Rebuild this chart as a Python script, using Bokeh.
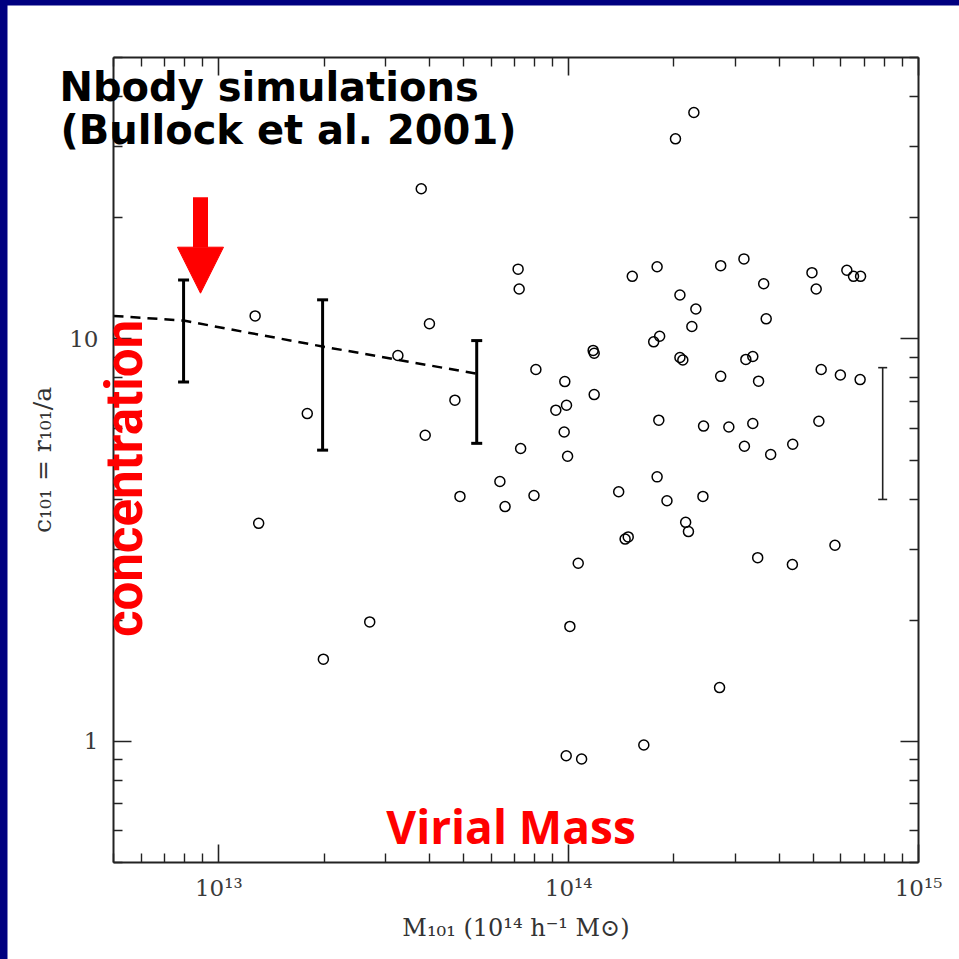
import math
from bokeh.plotting import figure
from bokeh.models import (Range1d, LogAxis, FixedTicker, CustomJSTickFormatter, Whisker, TeeHead,
                          ColumnDataSource, Label, Arrow, NormalHead, GlobalInlineStyleSheet)
from bokeh.embed import file_html
from bokeh.resources import INLINE

# ---------------- data ----------------
halo_mass = [2.02e14, 2.28e14, 3.79e13, 1.27e13, 4.00e13, 7.17e13, 7.22e13, 1.52e14, 1.79e14, 2.72e14,
             3.17e14, 3.61e14, 4.96e14, 5.10e14, 6.24e14, 6.52e14, 6.83e14, 2.08e14, 2.31e14, 2.25e14,
             3.67e14, 1.75e14, 1.82e14, 1.175e14, 1.183e14, 2.08e14, 2.12e14, 3.21e14, 3.36e14, 3.25e13,
             8.06e13, 9.75e13, 2.72e14, 3.49e14, 5.27e14, 5.98e14, 6.81e14, 1.183e14, 9.86e13, 9.19e13,
             9.71e13, 1.79e13, 3.89e13, 4.73e13, 1.81e14, 2.43e14, 2.87e14, 3.36e14, 5.19e14, 3.18e14,
             3.78e14, 4.37e14, 7.29e13, 9.93e13, 6.36e13, 7.96e13, 6.58e13, 4.89e13, 1.79e14, 1.39e14,
             1.91e14, 2.42e14, 2.16e14, 2.20e14, 1.45e14, 1.48e14, 1.30e13, 1.065e14, 3.47e14, 4.36e14,
             5.77e14, 2.70e13, 1.008e14, 1.99e13, 2.70e14, 9.84e13, 1.089e14, 1.64e14]
halo_conc = [31.4, 36.5, 23.6, 11.4, 10.9, 14.9, 13.3, 14.3, 15.1, 15.2,
             15.8, 13.7, 14.6, 13.3, 14.8, 14.3, 14.3, 12.85, 11.86, 10.73,
             11.21, 9.83, 10.15, 9.36, 9.21, 8.99, 8.86, 8.89, 9.04, 9.09,
             8.39, 7.83, 8.07, 7.85, 8.39, 8.13, 7.92, 7.27, 6.84, 6.65,
             5.87, 6.52, 5.76, 7.04, 6.28, 6.07, 6.04, 6.16, 6.24, 5.41,
             5.16, 5.47, 5.34, 5.11, 4.42, 4.08, 3.83, 4.06, 4.54, 4.17,
             3.96, 4.06, 3.50, 3.32, 3.18, 3.22, 3.48, 2.77, 2.86, 2.75,
             3.07, 1.98, 1.93, 1.60, 1.36, 0.921, 0.904, 0.979]

# N-body (Bullock et al. 2001) binned relation
bin_mass = [7.93e12, 1.98e13, 5.46e13]
bin_upper = [14.0, 12.5, 9.9]
bin_lower = [7.81, 5.29, 5.50]
model_mass = [5.0e12, 7.93e12, 1.98e13, 5.46e13]
model_conc = [11.4, 11.1, 9.57, 8.19]

# typical error bar
typ_mass = [7.9e14]
typ_upper = [8.48]
typ_lower = [3.99]

x_limits = (5e12, 1e15)
y_limits = (0.5, 50)
x_ticks = [1e13, 1e14, 1e15]
x_tick_labels = ["10¹³", "10¹⁴", "10¹⁵"]
y_ticks = [1, 10]
y_tick_labels = ["1", "10"]
x_minor = [v for v in (k * 10.0 ** e for e in (12, 13, 14) for k in range(2, 10))
           if x_limits[0] * 0.999 <= v <= x_limits[1]]
y_minor = [v for v in (k * 10.0 ** e for e in (-1, 0, 1) for k in range(2, 10))
           if y_limits[0] * 0.999 <= v <= y_limits[1] * 1.001]

# ---------------- layout ----------------
W, H = 952, 954
OX, OY = 7, 5                      # page offset of the canvas
FL, FR, FT, FB = 113, 918, 57, 862  # page pixel box of the axes

kx = (math.log10(x_limits[1]) - math.log10(x_limits[0])) / (FR - FL)
ky = (math.log10(y_limits[1]) - math.log10(y_limits[0])) / (FB - FT)
x_start = 10 ** (math.log10(x_limits[0]) - (FL - OX) * kx)
x_end = 10 ** (math.log10(x_limits[1]) + (OX + W - FR) * kx)
y_start = 10 ** (math.log10(y_limits[0]) - (OY + H - FB) * ky)
y_end = 10 ** (math.log10(y_limits[1]) + (FT - OY) * ky)


def sx(px):
    return px - OX


def sy(py):
    return (OY + H) - py


p = figure(width=W, height=H, x_axis_type="log", y_axis_type="log",
           x_range=Range1d(x_start, x_end), y_range=Range1d(y_start, y_end),
           output_backend="svg", toolbar_location=None, min_border=0)
p.background_fill_color = "white"
p.border_fill_color = "white"
p.outline_line_color = None
p.xgrid.visible = False
p.ygrid.visible = False
p.stylesheets = [GlobalInlineStyleSheet(
    css="html,body{background:#000080;} body{margin:5px 0 0 7px !important; overflow:hidden;}")]

FMT_CODE = """
let best = -1, bd = 1e9;
for (let i = 0; i < tv.length; i++) {
  const d = Math.abs(Math.log10(tv[i]) - Math.log10(tick));
  if (d < bd) { bd = d; best = i; }
}
return bd < 1e-3 ? lbl[best] : "";
"""


def style_axis(ax, ticks, minor, bounds, loc, labels=None):
    ax.ticker = FixedTicker(ticks=ticks, minor_ticks=minor)
    ax.bounds = bounds
    ax.fixed_location = loc
    if labels is not None:
        ax.formatter = CustomJSTickFormatter(args=dict(tv=ticks, lbl=labels), code=FMT_CODE)
    else:
        ax.formatter = CustomJSTickFormatter(code="return '';")
        ax.major_label_standoff = 0
    ax.major_tick_in = 18
    ax.major_tick_out = 0
    ax.minor_tick_in = 9
    ax.minor_tick_out = 0
    ax.axis_line_width = 2
    ax.axis_line_color = "#222222"
    ax.major_tick_line_width = 1.6
    ax.major_tick_line_color = "#222222"
    ax.minor_tick_line_width = 1.4
    ax.minor_tick_line_color = "#222222"
    ax.major_label_text_font = "DejaVu Serif"
    ax.major_label_text_font_size = "23px"
    ax.major_label_text_color = "#3a3a3a"


bottom = p.below[0]
left = p.left[0]
style_axis(bottom, x_ticks, x_minor, x_limits, y_limits[0], x_tick_labels)
style_axis(left, y_ticks, y_minor, y_limits, x_limits[0], y_tick_labels)
bottom.major_label_standoff = 12
left.major_label_standoff = 15

bottom.axis_label = "M₁₀₁ (10¹⁴ h⁻¹ M⊙)"
bottom.axis_label_text_font = "DejaVu Serif"
bottom.axis_label_text_font_size = "24px"
bottom.axis_label_text_font_style = "normal"
bottom.axis_label_text_color = "#333333"
bottom.axis_label_standoff = 10

left.axis_label = "c₁₀₁ = r₁₀₁/a"
left.axis_label_text_font = "DejaVu Serif"
left.axis_label_text_font_size = "25px"
left.axis_label_text_font_style = "normal"
left.axis_label_text_color = "#333333"
left.axis_label_standoff = 9

top_ax = LogAxis()
style_axis(top_ax, x_ticks, x_minor, x_limits, y_limits[1])
p.add_layout(top_ax, "above")
right_ax = LogAxis()
style_axis(right_ax, y_ticks, y_minor, y_limits, x_limits[1])
p.add_layout(right_ax, "right")

# ---------------- glyphs ----------------
p.line(model_mass, model_conc, line_color="black", line_width=2.5, line_dash="10 7")

bins = ColumnDataSource(dict(x=bin_mass, upper=bin_upper, lower=bin_lower))
p.add_layout(Whisker(source=bins, base="x", upper="upper", lower="lower", dimension="height",
                     line_color="black", line_width=3,
                     upper_head=TeeHead(size=11, line_width=3, line_color="black"),
                     lower_head=TeeHead(size=11, line_width=3, line_color="black")))

typ = ColumnDataSource(dict(x=typ_mass, upper=typ_upper, lower=typ_lower))
p.add_layout(Whisker(source=typ, base="x", upper="upper", lower="lower", dimension="height",
                     line_color="#222222", line_width=1.6,
                     upper_head=TeeHead(size=9, line_width=1.6, line_color="#222222"),
                     lower_head=TeeHead(size=9, line_width=1.6, line_color="#222222")))

p.scatter(halo_mass, halo_conc, marker="circle", size=10, fill_color=None,
          line_color="black", line_width=1.5)

# ---------------- annotations ----------------
p.add_layout(Label(x=sx(59), y=sy(86), x_units="screen", y_units="screen",
                   text="Nbody simulations", text_font="DejaVu Sans", text_font_style="bold",
                   text_font_size="40px", text_color="black", text_align="left",
                   text_baseline="alphabetic"))
p.add_layout(Label(x=sx(60), y=sy(129), x_units="screen", y_units="screen",
                   text="(Bullock et al. 2001)", text_font="DejaVu Sans", text_font_style="bold",
                   text_font_size="40px", text_color="black", text_align="left",
                   text_baseline="alphabetic"))
p.add_layout(Label(x=sx(510.5), y=sy(825), x_units="screen", y_units="screen",
                   text="Virial Mass", text_font="Open Sans", text_font_style="bold",
                   text_font_size="46px", text_color="#ff0000", text_align="center",
                   text_baseline="alphabetic"))
p.add_layout(Label(x=sx(124), y=sy(478), x_units="screen", y_units="screen", angle=1.5707963,
                   text="concentration", text_font="Roboto", text_font_style="bold",
                   text_font_size="51px", text_color="#ff0000", text_align="center",
                   text_baseline="alphabetic"))
p.add_layout(Arrow(x_start=sx(200), y_start=sy(196.7), x_end=sx(200), y_end=sy(292.7),
                   start_units="screen", end_units="screen",
                   line_color="#ff0000", line_width=15,
                   end=NormalHead(size=46, fill_color="#ff0000", line_color="#ff0000", line_width=1)))

open("out.html", "w").write(file_html(p, INLINE))
